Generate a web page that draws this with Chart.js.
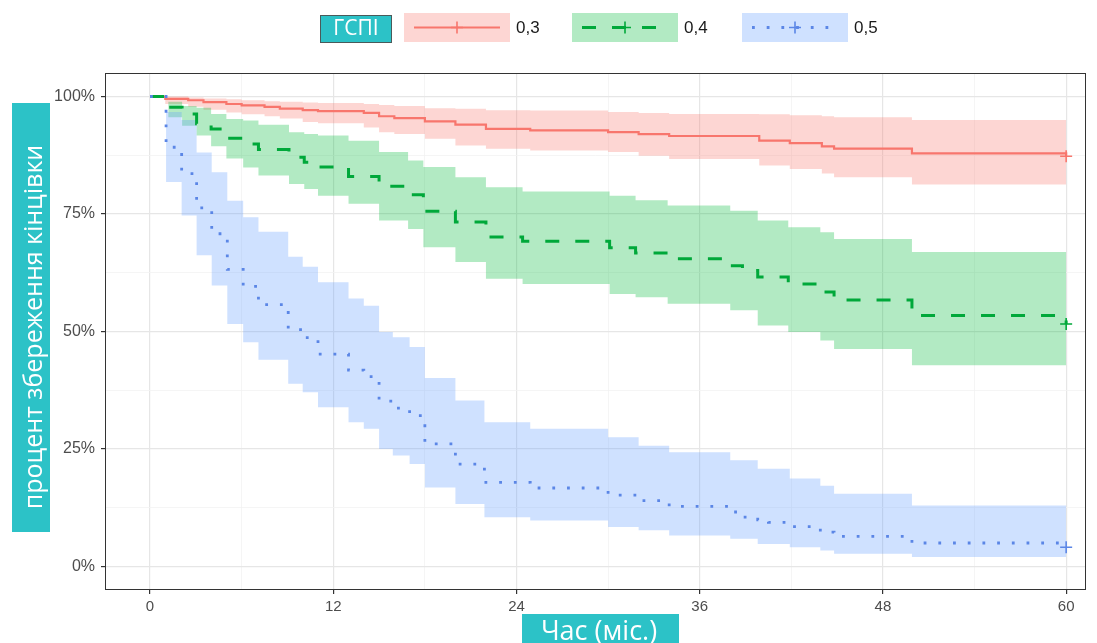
<!DOCTYPE html>
<html>
<head>
<meta charset="utf-8">
<title>Збереження кінцівки за ГСПІ</title>
<script src="https://cdn.jsdelivr.net/npm/chart.js@4/dist/chart.umd.min.js"></script>
<style>
  html, body { margin: 0; padding: 0; background: #ffffff; }
  #wrap { position: relative; width: 1097px; height: 643px; }
</style>
</head>
<body>
<div id="wrap"><canvas id="km" width="1097" height="643"></canvas></div>
<script>
// ---- labels ----
const legendTitle = 'ГСПІ';
const groupLabels = ['0,3', '0,4', '0,5'];
const xTitle = 'Час (міс.)';
const yTitle = 'процент збереження кінцівки';

// ---- axis ticks ----
const xTickValues = [0, 12, 24, 36, 48, 60];
const xMinorValues = [6, 18, 30, 42, 54];
const yTickValues = [0, 25, 50, 75, 100];
const yMinorValues = [12.5, 37.5, 62.5, 87.5];

// ---- group 0,3: Kaplan-Meier estimate with 95% band ----
const time03  = [0, 1.0, 2.5, 3.5, 5.0, 6.0, 7.5, 8.5, 10.0, 11.0, 14.0, 15.0, 16.0, 18.0, 20.0, 22.0, 24.9, 30.0, 32.0, 34.0, 39.9, 41.9, 44.0, 44.8, 49.9, 60];
const surv03  = [100, 99.5, 99.2, 98.8, 98.4, 98.1, 97.8, 97.4, 97.1, 96.9, 96.5, 95.8, 95.4, 94.7, 94.0, 93.1, 92.8, 92.4, 92.0, 91.6, 90.6, 90.1, 89.4, 88.9, 87.9, 87.3];
const upper03 = [100, 100, 99.8, 99.6, 99.4, 99.2, 99.0, 98.9, 98.7, 98.6, 98.4, 98.2, 98.0, 97.5, 97.4, 97.1, 97.0, 96.7, 96.5, 96.3, 96.2, 96.0, 95.8, 95.6, 95.0, 95.0];
const lower03 = [100, 98.4, 97.8, 97.2, 96.6, 96.2, 95.8, 95.3, 94.6, 94.3, 93.4, 92.4, 92.0, 91.0, 89.6, 88.9, 88.5, 88.2, 87.4, 86.7, 85.3, 84.6, 83.6, 82.8, 81.3, 81.3];

// ---- group 0,4 ----
const time04  = [0, 1.2, 2.1, 3.05, 4.0, 5.0, 6.1, 7.1, 9.1, 10.1, 11.0, 13.0, 15.0, 16.9, 17.9, 20.0, 22.0, 24.4, 30.1, 31.8, 33.9, 38.0, 38.8, 39.8, 41.8, 43.9, 44.8, 49.9, 60];
const surv04  = [100, 97.7, 96.3, 94.2, 93.1, 91.1, 89.9, 88.7, 87.1, 86.0, 85.0, 83.0, 80.9, 79.1, 75.6, 73.3, 70.1, 69.2, 67.8, 66.7, 65.5, 64.0, 63.0, 61.6, 60.1, 58.4, 56.7, 53.4, 51.6];
const upper04 = [100, 98.9, 98.0, 97.6, 96.3, 95.2, 94.9, 94.0, 92.4, 92.0, 91.7, 90.6, 88.2, 86.4, 85.0, 82.8, 80.7, 79.8, 78.9, 77.9, 76.8, 75.7, 75.7, 73.6, 72.2, 71.1, 69.7, 66.9, 66.9];
const lower04 = [100, 95.6, 93.8, 91.7, 89.4, 86.8, 84.9, 83.2, 81.4, 80.3, 78.9, 77.2, 73.6, 71.8, 67.9, 64.8, 61.2, 60.1, 58.0, 57.3, 55.9, 54.5, 54.5, 51.3, 49.9, 48.1, 46.3, 42.8, 42.8];

// ---- group 0,5 ----
const time05  = [0, 1.05, 2.07, 3.05, 4.04, 5.06, 6.1, 7.1, 9.05, 10.0, 11.0, 13.0, 14.0, 15.0, 15.9, 17.0, 18.0, 20.0, 21.9, 24.9, 30.0, 32.0, 34.0, 38.0, 38.8, 39.8, 40.5, 41.9, 43.9, 44.8, 49.9, 60];
const surv05  = [100, 89.2, 83.6, 76.3, 70.8, 63.2, 59.6, 55.7, 50.4, 48.7, 45.2, 41.8, 40.4, 35.2, 33.7, 32.1, 26.1, 21.8, 17.9, 16.7, 15.2, 14.0, 12.8, 11.6, 10.5, 9.9, 9.4, 8.5, 7.3, 6.4, 5.0, 4.1];
const upper05 = [100, 96.7, 95.0, 88.1, 83.9, 77.8, 74.3, 71.2, 65.9, 63.8, 60.5, 57.0, 55.5, 49.9, 48.8, 46.7, 40.1, 35.3, 30.7, 29.3, 27.5, 25.7, 24.3, 22.6, 22.6, 20.8, 20.8, 18.7, 17.2, 15.5, 13.0, 13.0];
const lower05 = [100, 81.8, 74.7, 66.2, 59.8, 51.6, 47.7, 44.0, 38.9, 37.1, 33.9, 30.7, 29.3, 25.0, 23.6, 21.8, 16.8, 13.3, 10.5, 9.8, 8.4, 7.7, 6.6, 5.9, 5.9, 4.8, 4.8, 4.1, 3.4, 2.7, 2.0, 2.0];

// ---- styling per group ----
const groups = [
  { label: groupLabels[0], t: time03, s: surv03, up: upper03, lo: lower03,
    color: '#F8766D', band: 'rgba(248,118,109,0.30)', width: 2.2, dash: [] },
  { label: groupLabels[1], t: time04, s: surv04, up: upper04, lo: lower04,
    color: '#00A83A', band: 'rgba(0,186,56,0.30)', width: 3, dash: [14, 16] },
  { label: groupLabels[2], t: time05, s: surv05, up: upper05, lo: lower05,
    color: '#5B86E6', band: 'rgba(97,156,255,0.30)', width: 2.8, dash: [2.8, 11.9] }
];

const teal = '#2CC2C7';
const tickFont = '"Liberation Sans", Arial, sans-serif';
const titleFont = '"Open Sans", "Noto Sans", sans-serif';

const pts = (xs, ys) => xs.map((x, i) => ({ x: x, y: ys[i] }));

// bands first (upper + lower filled to it), then the step curves on top
const datasets = [];
groups.forEach((g, gi) => {
  datasets.push({
    label: g.label + ' upper', data: pts(g.t, g.up), stepped: true,
    borderWidth: 0, borderColor: 'rgba(0,0,0,0)', pointRadius: 0, fill: false, order: 20 - gi
  });
  datasets.push({
    label: g.label + ' lower', data: pts(g.t, g.lo), stepped: true,
    borderWidth: 0, borderColor: 'rgba(0,0,0,0)', pointRadius: 0,
    fill: '-1', backgroundColor: g.band, order: 20 - gi
  });
});
groups.forEach((g, gi) => {
  const last = g.t.length - 1;
  datasets.push({
    label: g.label, data: pts(g.t, g.s), stepped: true, fill: false,
    borderColor: g.color, borderWidth: g.width, borderDash: g.dash,
    borderCapStyle: 'butt', borderJoinStyle: 'miter',
    pointStyle: 'cross',
    pointRadius: c => (c.dataIndex === last ? 6 : 0),
    pointBorderColor: g.color, pointBackgroundColor: g.color, pointBorderWidth: 1.6,
    order: 5 - gi
  });
});

const isMajorX = v => xTickValues.includes(v);
const isMajorY = v => yTickValues.includes(v);

// panel frame, legend and the boxed axis titles
const decor = {
  id: 'decor',
  afterDraw(chart) {
    const ctx = chart.ctx;
    const a = chart.chartArea;
    ctx.save();

    // panel border
    ctx.strokeStyle = '#333333';
    ctx.lineWidth = 1;
    ctx.setLineDash([]);
    ctx.strokeRect(Math.round(a.left) + 0.5, Math.round(a.top) + 0.5,
                   Math.round(a.right - a.left) - 1, Math.round(a.bottom - a.top) - 1);

    // legend title box
    ctx.fillStyle = teal;
    ctx.fillRect(320, 15, 72, 28);
    ctx.strokeStyle = '#4a5a5a';
    ctx.strokeRect(320.5, 15.5, 71, 27);
    ctx.fillStyle = '#ffffff';
    ctx.font = '21px ' + titleFont;
    ctx.textAlign = 'center';
    ctx.textBaseline = 'middle';
    ctx.fillText(legendTitle, 356, 29.5);

    // legend keys
    const keyX = [404, 572, 742];
    const keyW = 106, keyY = 13, keyH = 29;
    groups.forEach((g, i) => {
      const x = keyX[i], cy = keyY + keyH / 2;
      ctx.fillStyle = g.band;
      ctx.fillRect(x, keyY, keyW, keyH);
      ctx.strokeStyle = g.color;
      ctx.lineWidth = g.width;
      ctx.lineCap = 'butt';
      ctx.setLineDash(g.dash);
      ctx.beginPath();
      ctx.moveTo(x + 10, cy);
      ctx.lineTo(x + keyW - 10, cy);
      ctx.stroke();
      ctx.setLineDash([]);
      ctx.lineWidth = 1.6;
      const mx = x + keyW / 2;
      ctx.beginPath();
      ctx.moveTo(mx - 6, cy); ctx.lineTo(mx + 6, cy);
      ctx.moveTo(mx, cy - 6); ctx.lineTo(mx, cy + 6);
      ctx.stroke();
      ctx.fillStyle = '#1a1a1a';
      ctx.font = '17px ' + tickFont;
      ctx.textAlign = 'left';
      ctx.textBaseline = 'middle';
      ctx.fillText(g.label, x + keyW + 6, cy + 1);
    });

    // y axis title box (rotated text)
    ctx.fillStyle = teal;
    ctx.fillRect(12, 103, 38, 429);
    ctx.save();
    ctx.translate(42, 327);
    ctx.rotate(-Math.PI / 2);
    ctx.fillStyle = '#ffffff';
    ctx.font = '25px ' + titleFont;
    ctx.textAlign = 'center';
    ctx.textBaseline = 'alphabetic';
    ctx.fillText(yTitle, 0, 0);
    ctx.restore();

    // x axis title box
    ctx.fillStyle = teal;
    ctx.fillRect(522, 614, 157, 40);
    ctx.fillStyle = '#ffffff';
    ctx.font = '27px ' + titleFont;
    ctx.textAlign = 'center';
    ctx.textBaseline = 'alphabetic';
    ctx.fillText(xTitle, 599, 640);

    ctx.restore();
  }
};

new Chart(document.getElementById('km'), {
  type: 'line',
  data: { datasets: datasets },
  plugins: [decor],
  options: {
    responsive: false,
    devicePixelRatio: 1,
    animation: false,
    events: [],
    layout: { padding: { top: 73, right: 11, left: 0, bottom: 0 } },
    plugins: { legend: { display: false }, tooltip: { enabled: false }, filler: { propagate: false } },
    scales: {
      x: {
        type: 'linear', min: -2.95, max: 61.3,
        afterBuildTicks: s => { s.ticks = xTickValues.concat(xMinorValues).sort((p, q) => p - q).map(v => ({ value: v })); },
        afterFit: s => { s.height = 53; },
        border: { display: false },
        grid: {
          color: c => (isMajorX(c.tick.value) ? '#e6e6e6' : '#f3f3f3'),
          lineWidth: c => (isMajorX(c.tick.value) ? 1.2 : 0.8),
          tickColor: c => (isMajorX(c.tick.value) ? '#333333' : 'rgba(0,0,0,0)'),
          tickLength: 4,
          drawTicks: true
        },
        ticks: {
          autoSkip: false, maxRotation: 0, padding: 4,
          color: '#4d4d4d', font: { family: tickFont, size: 15 },
          callback: v => (isMajorX(v) ? String(v) : '')
        }
      },
      y: {
        type: 'linear', min: -5, max: 105,
        afterBuildTicks: s => { s.ticks = yTickValues.concat(yMinorValues).sort((p, q) => p - q).map(v => ({ value: v })); },
        afterFit: s => { s.width = 105; },
        border: { display: false },
        grid: {
          color: c => (isMajorY(c.tick.value) ? '#e6e6e6' : '#f3f3f3'),
          lineWidth: c => (isMajorY(c.tick.value) ? 1.2 : 0.8),
          tickColor: c => (isMajorY(c.tick.value) ? '#333333' : 'rgba(0,0,0,0)'),
          tickLength: 4,
          drawTicks: true
        },
        ticks: {
          autoSkip: false, padding: 6,
          color: '#4d4d4d', font: { family: tickFont, size: 16 },
          callback: v => (isMajorY(v) ? v + '%' : '')
        }
      }
    }
  }
});
</script>
</body>
</html>
